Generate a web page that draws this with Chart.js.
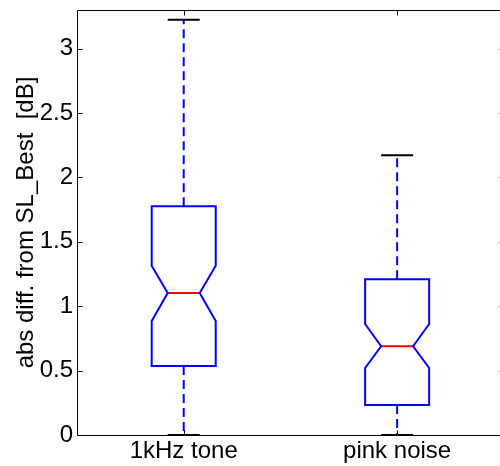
<!DOCTYPE html>
<html>
<head>
<meta charset="utf-8">
<script src="https://cdn.jsdelivr.net/npm/chart.js@4.4.1/dist/chart.umd.min.js"></script>
<style>
  html, body { margin: 0; padding: 0; background: #fff; }
  #wrap { width: 500px; height: 466px; }
</style>
</head>
<body>
<div id="wrap"><canvas id="chart"></canvas></div>
<script>
const categories = ["1kHz tone", "pink noise"];
const q1 = [0.536, 0.233];
const q3 = [1.777, 1.21];
const medians = [1.103, 0.689];
const notchLo = [0.886, 0.52];
const notchHi = [1.315, 0.862];
const whiskerLo = [0, 0];
const whiskerHi = [3.225, 2.173];
const yTicks = [0, 0.5, 1, 1.5, 2, 2.5, 3];

const BLUE = "#0000ff";
const FONT = "'Liberation Sans', Arial, sans-serif";
const boxHalf = 0.15;
const notchHalf = 0.075;
const capHalf = 0.075;

const datasets = [];

categories.forEach((cat, i) => {
    const x = i + 1;
    // dashed whiskers
    datasets.push({
        data: [{ x: x, y: q3[i] }, { x: x, y: whiskerHi[i] }],
        borderColor: BLUE, borderWidth: 2, borderDash: [9, 5]
    });
    datasets.push({
        data: [{ x: x, y: q1[i] }, { x: x, y: whiskerLo[i] }],
        borderColor: BLUE, borderWidth: 2, borderDash: [9, 5]
    });
    // notched box
    datasets.push({
        data: [
            { x: x - boxHalf, y: q1[i] },
            { x: x - boxHalf, y: notchLo[i] },
            { x: x - notchHalf, y: medians[i] },
            { x: x - boxHalf, y: notchHi[i] },
            { x: x - boxHalf, y: q3[i] },
            { x: x + boxHalf, y: q3[i] },
            { x: x + boxHalf, y: notchHi[i] },
            { x: x + notchHalf, y: medians[i] },
            { x: x + boxHalf, y: notchLo[i] },
            { x: x + boxHalf, y: q1[i] },
            { x: x - boxHalf, y: q1[i] }
        ],
        borderColor: BLUE, borderWidth: 2, borderCapStyle: "square"
    });
    // median
    datasets.push({
        data: [{ x: x - notchHalf, y: medians[i] }, { x: x + notchHalf, y: medians[i] }],
        borderColor: "#ff0000", borderWidth: 2
    });
    // whisker caps
    datasets.push({
        data: [{ x: x - capHalf, y: whiskerHi[i] }, { x: x + capHalf, y: whiskerHi[i] }],
        borderColor: "#000", borderWidth: 2
    });
    datasets.push({
        data: [{ x: x - capHalf, y: whiskerLo[i] }, { x: x + capHalf, y: whiskerLo[i] }],
        borderColor: "#000", borderWidth: 2
    });
});

datasets.forEach(d => {
    d.showLine = true;
    d.pointRadius = 0;
    d.pointHoverRadius = 0;
    d.fill = false;
    d.tension = 0;
    d.borderJoinStyle = "miter";
});

// frame with inward ticks on all four sides, like the original
const framePlugin = {
    id: "frame",
    beforeDatasetsDraw(chart) {
        const ctx = chart.ctx;
        const xs = chart.scales.x;
        const ys = chart.scales.y;
        const L = Math.round(xs.getPixelForValue(0.5)) + 0.5;
        const R = Math.round(xs.getPixelForValue(2.5)) + 0.5;
        const T = Math.round(ys.getPixelForValue(3.3)) + 0.5;
        const B = Math.round(ys.getPixelForValue(0)) + 0.5;
        const tl = 5;
        ctx.save();
        ctx.strokeStyle = "#000";
        ctx.lineWidth = 1;
        ctx.beginPath();
        ctx.rect(L, T, R - L, B - T);
        yTicks.forEach(v => {
            const py = Math.round(ys.getPixelForValue(v)) + 0.5;
            ctx.moveTo(L, py); ctx.lineTo(L + tl, py);
            ctx.moveTo(R, py); ctx.lineTo(R - tl, py);
        });
        categories.forEach((c, i) => {
            const px = Math.round(xs.getPixelForValue(i + 1)) + 0.5;
            ctx.moveTo(px, T); ctx.lineTo(px, T + tl);
            ctx.moveTo(px, B); ctx.lineTo(px, B - tl);
        });
        ctx.stroke();
        ctx.restore();
    }
};

new Chart(document.getElementById("chart"), {
    type: "scatter",
    data: { datasets },
    options: {
        responsive: true,
        maintainAspectRatio: false,
        animation: false,
        layout: { padding: { top: 10, right: 0, bottom: 0, left: 0 } },
        plugins: {
            legend: { display: false },
            tooltip: { enabled: false }
        },
        scales: {
            x: {
                type: "linear",
                min: 0.5,
                max: 2.482,
                grid: { display: false, drawTicks: false },
                border: { display: false },
                afterBuildTicks: s => { s.ticks = categories.map((c, i) => ({ value: i + 1 })); },
                afterFit: s => {
                    s.height = 31;
                    s.paddingLeft = 0; s.paddingRight = 0;
                },
                ticks: {
                    autoSkip: false,
                    maxRotation: 0,
                    padding: 2,
                    color: "#000",
                    font: { family: FONT, size: 24 },
                    callback: v => categories[v - 1] || ""
                }
            },
            y: {
                min: 0,
                max: 3.3,
                grid: { display: false, drawTicks: false },
                border: { display: false },
                afterBuildTicks: s => { s.ticks = yTicks.map(v => ({ value: v })); },
                afterFit: s => {
                    s.width = 77;
                    s.paddingTop = 0; s.paddingBottom = 0;
                },
                ticks: {
                    padding: 4,
                    color: "#000",
                    font: { family: FONT, size: 24 },
                    callback: v => String(v)
                },
                title: {
                    display: true,
                    text: "abs diff. from SL_Best  [dB]",
                    color: "#000",
                    padding: { top: 12, bottom: 0 },
                    font: { family: FONT, size: 24 }
                }
            }
        }
    },
    plugins: [framePlugin]
});
</script>
</body>
</html>
